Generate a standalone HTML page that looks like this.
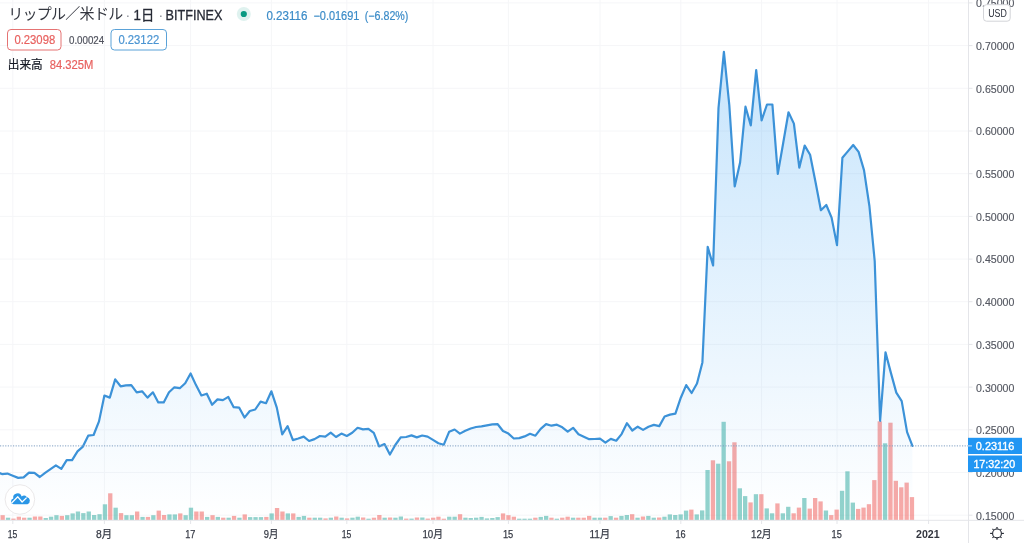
<!DOCTYPE html>
<html lang="ja"><head><meta charset="utf-8"><title>XRPUSD</title>
<style>
html,body{margin:0;padding:0;background:#fff;}
body{width:1024px;height:543px;overflow:hidden;position:relative;font-family:"Liberation Sans","Noto Sans CJK JP",sans-serif;}
svg{position:absolute;left:0;top:0;display:block}
text{font-family:"Liberation Sans","Noto Sans CJK JP",sans-serif;}
.ax{font-size:11px;fill:#555862;stroke:#555862;stroke-width:.15px}
.tm{font-size:11px;fill:#363a45;stroke:#363a45;stroke-width:.25px}
</style></head><body>
<svg width="1024" height="543" viewBox="0 0 1024 543">
<defs>
<linearGradient id="ag" gradientUnits="userSpaceOnUse" x1="0" y1="0" x2="0" y2="520">
<stop offset="0" stop-color="#2196f3" stop-opacity="0.28"/>
<stop offset="1" stop-color="#2196f3" stop-opacity="0.0"/>
</linearGradient>
<clipPath id="pane"><rect x="0" y="0" width="968.5" height="520"/></clipPath>
</defs>
<rect width="1024" height="543" fill="#fff"/>

<g stroke="#f5f6f8" stroke-width="1" fill="none">
<line x1="0" y1="2.9" x2="968.5" y2="2.9"/>
<line x1="0" y1="45.6" x2="968.5" y2="45.6"/>
<line x1="0" y1="88.3" x2="968.5" y2="88.3"/>
<line x1="0" y1="131.0" x2="968.5" y2="131.0"/>
<line x1="0" y1="173.7" x2="968.5" y2="173.7"/>
<line x1="0" y1="216.4" x2="968.5" y2="216.4"/>
<line x1="0" y1="259.1" x2="968.5" y2="259.1"/>
<line x1="0" y1="301.7" x2="968.5" y2="301.7"/>
<line x1="0" y1="344.4" x2="968.5" y2="344.4"/>
<line x1="0" y1="387.1" x2="968.5" y2="387.1"/>
<line x1="0" y1="429.8" x2="968.5" y2="429.8"/>
<line x1="0" y1="472.5" x2="968.5" y2="472.5"/>
<line x1="0" y1="515.2" x2="968.5" y2="515.2"/>
<line x1="12.8" y1="0" x2="12.8" y2="520"/>
<line x1="104.4" y1="0" x2="104.4" y2="520"/>
<line x1="190.6" y1="0" x2="190.6" y2="520"/>
<line x1="271.4" y1="0" x2="271.4" y2="520"/>
<line x1="346.8" y1="0" x2="346.8" y2="520"/>
<line x1="433.0" y1="0" x2="433.0" y2="520"/>
<line x1="508.4" y1="0" x2="508.4" y2="520"/>
<line x1="600.0" y1="0" x2="600.0" y2="520"/>
<line x1="680.8" y1="0" x2="680.8" y2="520"/>
<line x1="761.6" y1="0" x2="761.6" y2="520"/>
<line x1="837.0" y1="0" x2="837.0" y2="520"/>
<line x1="928.6" y1="0" x2="928.6" y2="520"/>
</g>
<g clip-path="url(#pane)">
<rect x="0.5" y="515.2" width="4.3" height="4.8" fill="#ef5350" fill-opacity="0.5"/>
<rect x="5.9" y="517.7" width="4.3" height="2.3" fill="#26a69a" fill-opacity="0.5"/>
<rect x="11.3" y="518.6" width="4.3" height="1.4" fill="#ef5350" fill-opacity="0.5"/>
<rect x="16.7" y="516.7" width="4.3" height="3.3" fill="#ef5350" fill-opacity="0.5"/>
<rect x="22.0" y="517.7" width="4.3" height="2.3" fill="#ef5350" fill-opacity="0.5"/>
<rect x="27.4" y="517.7" width="4.3" height="2.3" fill="#26a69a" fill-opacity="0.5"/>
<rect x="32.8" y="516.5" width="4.3" height="3.5" fill="#ef5350" fill-opacity="0.5"/>
<rect x="38.2" y="516.5" width="4.3" height="3.5" fill="#ef5350" fill-opacity="0.5"/>
<rect x="43.6" y="518.0" width="4.3" height="2.0" fill="#26a69a" fill-opacity="0.5"/>
<rect x="48.9" y="516.7" width="4.3" height="3.3" fill="#26a69a" fill-opacity="0.5"/>
<rect x="54.3" y="515.2" width="4.3" height="4.8" fill="#26a69a" fill-opacity="0.5"/>
<rect x="59.7" y="515.9" width="4.3" height="4.1" fill="#ef5350" fill-opacity="0.5"/>
<rect x="65.1" y="515.2" width="4.3" height="4.8" fill="#26a69a" fill-opacity="0.5"/>
<rect x="70.5" y="513.4" width="4.3" height="6.6" fill="#26a69a" fill-opacity="0.5"/>
<rect x="75.8" y="511.5" width="4.3" height="8.5" fill="#26a69a" fill-opacity="0.5"/>
<rect x="81.2" y="513.1" width="4.3" height="6.9" fill="#26a69a" fill-opacity="0.5"/>
<rect x="86.6" y="511.5" width="4.3" height="8.5" fill="#26a69a" fill-opacity="0.5"/>
<rect x="92.0" y="515.0" width="4.3" height="5.0" fill="#26a69a" fill-opacity="0.5"/>
<rect x="97.4" y="514.2" width="4.3" height="5.8" fill="#26a69a" fill-opacity="0.5"/>
<rect x="102.8" y="504.3" width="4.3" height="15.7" fill="#26a69a" fill-opacity="0.5"/>
<rect x="108.1" y="493.3" width="4.3" height="26.7" fill="#ef5350" fill-opacity="0.5"/>
<rect x="113.5" y="507.7" width="4.3" height="12.3" fill="#26a69a" fill-opacity="0.5"/>
<rect x="118.9" y="513.1" width="4.3" height="6.9" fill="#ef5350" fill-opacity="0.5"/>
<rect x="124.3" y="515.2" width="4.3" height="4.8" fill="#26a69a" fill-opacity="0.5"/>
<rect x="129.7" y="515.2" width="4.3" height="4.8" fill="#26a69a" fill-opacity="0.5"/>
<rect x="135.0" y="511.5" width="4.3" height="8.5" fill="#ef5350" fill-opacity="0.5"/>
<rect x="140.4" y="516.9" width="4.3" height="3.1" fill="#26a69a" fill-opacity="0.5"/>
<rect x="145.8" y="516.9" width="4.3" height="3.1" fill="#ef5350" fill-opacity="0.5"/>
<rect x="151.2" y="515.2" width="4.3" height="4.8" fill="#26a69a" fill-opacity="0.5"/>
<rect x="156.6" y="510.6" width="4.3" height="9.4" fill="#ef5350" fill-opacity="0.5"/>
<rect x="161.9" y="515.0" width="4.3" height="5.0" fill="#ef5350" fill-opacity="0.5"/>
<rect x="167.3" y="514.4" width="4.3" height="5.6" fill="#26a69a" fill-opacity="0.5"/>
<rect x="172.7" y="514.4" width="4.3" height="5.6" fill="#26a69a" fill-opacity="0.5"/>
<rect x="178.1" y="513.4" width="4.3" height="6.6" fill="#ef5350" fill-opacity="0.5"/>
<rect x="183.5" y="515.2" width="4.3" height="4.8" fill="#26a69a" fill-opacity="0.5"/>
<rect x="188.8" y="507.7" width="4.3" height="12.3" fill="#26a69a" fill-opacity="0.5"/>
<rect x="194.2" y="511.5" width="4.3" height="8.5" fill="#ef5350" fill-opacity="0.5"/>
<rect x="199.6" y="511.5" width="4.3" height="8.5" fill="#ef5350" fill-opacity="0.5"/>
<rect x="205.0" y="516.9" width="4.3" height="3.1" fill="#26a69a" fill-opacity="0.5"/>
<rect x="210.4" y="515.2" width="4.3" height="4.8" fill="#ef5350" fill-opacity="0.5"/>
<rect x="215.7" y="516.9" width="4.3" height="3.1" fill="#26a69a" fill-opacity="0.5"/>
<rect x="221.1" y="517.7" width="4.3" height="2.3" fill="#ef5350" fill-opacity="0.5"/>
<rect x="226.5" y="517.7" width="4.3" height="2.3" fill="#26a69a" fill-opacity="0.5"/>
<rect x="231.9" y="515.9" width="4.3" height="4.1" fill="#ef5350" fill-opacity="0.5"/>
<rect x="237.3" y="517.7" width="4.3" height="2.3" fill="#26a69a" fill-opacity="0.5"/>
<rect x="242.6" y="514.4" width="4.3" height="5.6" fill="#ef5350" fill-opacity="0.5"/>
<rect x="248.0" y="517.1" width="4.3" height="2.9" fill="#26a69a" fill-opacity="0.5"/>
<rect x="253.4" y="517.1" width="4.3" height="2.9" fill="#26a69a" fill-opacity="0.5"/>
<rect x="258.8" y="517.1" width="4.3" height="2.9" fill="#26a69a" fill-opacity="0.5"/>
<rect x="264.2" y="516.9" width="4.3" height="3.1" fill="#ef5350" fill-opacity="0.5"/>
<rect x="269.5" y="513.4" width="4.3" height="6.6" fill="#26a69a" fill-opacity="0.5"/>
<rect x="274.9" y="508.0" width="4.3" height="12.0" fill="#ef5350" fill-opacity="0.5"/>
<rect x="280.3" y="511.5" width="4.3" height="8.5" fill="#ef5350" fill-opacity="0.5"/>
<rect x="285.7" y="513.4" width="4.3" height="6.6" fill="#26a69a" fill-opacity="0.5"/>
<rect x="291.1" y="513.4" width="4.3" height="6.6" fill="#ef5350" fill-opacity="0.5"/>
<rect x="296.5" y="516.9" width="4.3" height="3.1" fill="#26a69a" fill-opacity="0.5"/>
<rect x="301.8" y="515.9" width="4.3" height="4.1" fill="#26a69a" fill-opacity="0.5"/>
<rect x="307.2" y="517.7" width="4.3" height="2.3" fill="#ef5350" fill-opacity="0.5"/>
<rect x="312.6" y="517.7" width="4.3" height="2.3" fill="#26a69a" fill-opacity="0.5"/>
<rect x="318.0" y="517.7" width="4.3" height="2.3" fill="#26a69a" fill-opacity="0.5"/>
<rect x="323.4" y="518.4" width="4.3" height="1.6" fill="#ef5350" fill-opacity="0.5"/>
<rect x="328.7" y="517.7" width="4.3" height="2.3" fill="#26a69a" fill-opacity="0.5"/>
<rect x="334.1" y="516.5" width="4.3" height="3.5" fill="#ef5350" fill-opacity="0.5"/>
<rect x="339.5" y="517.7" width="4.3" height="2.3" fill="#26a69a" fill-opacity="0.5"/>
<rect x="344.9" y="518.4" width="4.3" height="1.6" fill="#ef5350" fill-opacity="0.5"/>
<rect x="350.3" y="517.7" width="4.3" height="2.3" fill="#26a69a" fill-opacity="0.5"/>
<rect x="355.6" y="516.7" width="4.3" height="3.3" fill="#26a69a" fill-opacity="0.5"/>
<rect x="361.0" y="517.5" width="4.3" height="2.5" fill="#ef5350" fill-opacity="0.5"/>
<rect x="366.4" y="518.7" width="4.3" height="1.3" fill="#26a69a" fill-opacity="0.5"/>
<rect x="371.8" y="517.7" width="4.3" height="2.3" fill="#ef5350" fill-opacity="0.5"/>
<rect x="377.2" y="515.0" width="4.3" height="5.0" fill="#ef5350" fill-opacity="0.5"/>
<rect x="382.5" y="517.7" width="4.3" height="2.3" fill="#26a69a" fill-opacity="0.5"/>
<rect x="387.9" y="517.5" width="4.3" height="2.5" fill="#ef5350" fill-opacity="0.5"/>
<rect x="393.3" y="517.7" width="4.3" height="2.3" fill="#26a69a" fill-opacity="0.5"/>
<rect x="398.7" y="516.5" width="4.3" height="3.5" fill="#26a69a" fill-opacity="0.5"/>
<rect x="404.1" y="518.6" width="4.3" height="1.4" fill="#ef5350" fill-opacity="0.5"/>
<rect x="409.4" y="518.6" width="4.3" height="1.4" fill="#26a69a" fill-opacity="0.5"/>
<rect x="414.8" y="517.5" width="4.3" height="2.5" fill="#ef5350" fill-opacity="0.5"/>
<rect x="420.2" y="517.5" width="4.3" height="2.5" fill="#26a69a" fill-opacity="0.5"/>
<rect x="425.6" y="518.6" width="4.3" height="1.4" fill="#ef5350" fill-opacity="0.5"/>
<rect x="431.0" y="517.7" width="4.3" height="2.3" fill="#ef5350" fill-opacity="0.5"/>
<rect x="436.3" y="516.7" width="4.3" height="3.3" fill="#ef5350" fill-opacity="0.5"/>
<rect x="441.7" y="518.7" width="4.3" height="1.3" fill="#ef5350" fill-opacity="0.5"/>
<rect x="447.1" y="516.7" width="4.3" height="3.3" fill="#26a69a" fill-opacity="0.5"/>
<rect x="452.5" y="516.7" width="4.3" height="3.3" fill="#26a69a" fill-opacity="0.5"/>
<rect x="457.9" y="514.2" width="4.3" height="5.8" fill="#ef5350" fill-opacity="0.5"/>
<rect x="463.3" y="517.7" width="4.3" height="2.3" fill="#26a69a" fill-opacity="0.5"/>
<rect x="468.6" y="518.0" width="4.3" height="2.0" fill="#26a69a" fill-opacity="0.5"/>
<rect x="474.0" y="517.7" width="4.3" height="2.3" fill="#26a69a" fill-opacity="0.5"/>
<rect x="479.4" y="516.9" width="4.3" height="3.1" fill="#26a69a" fill-opacity="0.5"/>
<rect x="484.8" y="518.4" width="4.3" height="1.6" fill="#26a69a" fill-opacity="0.5"/>
<rect x="490.2" y="518.0" width="4.3" height="2.0" fill="#26a69a" fill-opacity="0.5"/>
<rect x="495.5" y="517.1" width="4.3" height="2.9" fill="#26a69a" fill-opacity="0.5"/>
<rect x="500.9" y="513.4" width="4.3" height="6.6" fill="#ef5350" fill-opacity="0.5"/>
<rect x="506.3" y="515.2" width="4.3" height="4.8" fill="#ef5350" fill-opacity="0.5"/>
<rect x="511.7" y="516.7" width="4.3" height="3.3" fill="#ef5350" fill-opacity="0.5"/>
<rect x="517.1" y="518.7" width="4.3" height="1.3" fill="#26a69a" fill-opacity="0.5"/>
<rect x="522.4" y="518.7" width="4.3" height="1.3" fill="#26a69a" fill-opacity="0.5"/>
<rect x="527.8" y="518.7" width="4.3" height="1.3" fill="#26a69a" fill-opacity="0.5"/>
<rect x="533.2" y="517.7" width="4.3" height="2.3" fill="#ef5350" fill-opacity="0.5"/>
<rect x="538.6" y="516.9" width="4.3" height="3.1" fill="#26a69a" fill-opacity="0.5"/>
<rect x="544.0" y="515.9" width="4.3" height="4.1" fill="#26a69a" fill-opacity="0.5"/>
<rect x="549.3" y="517.7" width="4.3" height="2.3" fill="#ef5350" fill-opacity="0.5"/>
<rect x="554.7" y="518.7" width="4.3" height="1.3" fill="#26a69a" fill-opacity="0.5"/>
<rect x="560.1" y="517.7" width="4.3" height="2.3" fill="#ef5350" fill-opacity="0.5"/>
<rect x="565.5" y="516.7" width="4.3" height="3.3" fill="#ef5350" fill-opacity="0.5"/>
<rect x="570.9" y="517.7" width="4.3" height="2.3" fill="#26a69a" fill-opacity="0.5"/>
<rect x="576.2" y="517.7" width="4.3" height="2.3" fill="#ef5350" fill-opacity="0.5"/>
<rect x="581.6" y="517.7" width="4.3" height="2.3" fill="#ef5350" fill-opacity="0.5"/>
<rect x="587.0" y="515.9" width="4.3" height="4.1" fill="#ef5350" fill-opacity="0.5"/>
<rect x="592.4" y="517.7" width="4.3" height="2.3" fill="#26a69a" fill-opacity="0.5"/>
<rect x="597.8" y="517.7" width="4.3" height="2.3" fill="#26a69a" fill-opacity="0.5"/>
<rect x="603.1" y="517.7" width="4.3" height="2.3" fill="#ef5350" fill-opacity="0.5"/>
<rect x="608.5" y="516.1" width="4.3" height="3.9" fill="#26a69a" fill-opacity="0.5"/>
<rect x="613.9" y="517.7" width="4.3" height="2.3" fill="#ef5350" fill-opacity="0.5"/>
<rect x="619.3" y="515.9" width="4.3" height="4.1" fill="#26a69a" fill-opacity="0.5"/>
<rect x="624.7" y="515.0" width="4.3" height="5.0" fill="#26a69a" fill-opacity="0.5"/>
<rect x="630.0" y="514.2" width="4.3" height="5.8" fill="#ef5350" fill-opacity="0.5"/>
<rect x="635.4" y="517.7" width="4.3" height="2.3" fill="#26a69a" fill-opacity="0.5"/>
<rect x="640.8" y="516.5" width="4.3" height="3.5" fill="#ef5350" fill-opacity="0.5"/>
<rect x="646.2" y="515.9" width="4.3" height="4.1" fill="#26a69a" fill-opacity="0.5"/>
<rect x="651.6" y="517.7" width="4.3" height="2.3" fill="#26a69a" fill-opacity="0.5"/>
<rect x="657.0" y="517.5" width="4.3" height="2.5" fill="#ef5350" fill-opacity="0.5"/>
<rect x="662.3" y="516.7" width="4.3" height="3.3" fill="#26a69a" fill-opacity="0.5"/>
<rect x="667.7" y="514.4" width="4.3" height="5.6" fill="#26a69a" fill-opacity="0.5"/>
<rect x="673.1" y="515.0" width="4.3" height="5.0" fill="#26a69a" fill-opacity="0.5"/>
<rect x="678.5" y="514.4" width="4.3" height="5.6" fill="#26a69a" fill-opacity="0.5"/>
<rect x="683.9" y="510.6" width="4.3" height="9.4" fill="#26a69a" fill-opacity="0.5"/>
<rect x="689.2" y="509.6" width="4.3" height="10.4" fill="#ef5350" fill-opacity="0.5"/>
<rect x="694.6" y="514.4" width="4.3" height="5.6" fill="#26a69a" fill-opacity="0.5"/>
<rect x="700.0" y="510.4" width="4.3" height="9.6" fill="#26a69a" fill-opacity="0.5"/>
<rect x="705.4" y="470.0" width="4.3" height="50.0" fill="#26a69a" fill-opacity="0.5"/>
<rect x="710.8" y="460.3" width="4.3" height="59.7" fill="#ef5350" fill-opacity="0.5"/>
<rect x="716.1" y="463.7" width="4.3" height="56.3" fill="#26a69a" fill-opacity="0.5"/>
<rect x="721.5" y="421.8" width="4.3" height="98.2" fill="#26a69a" fill-opacity="0.5"/>
<rect x="726.9" y="461.3" width="4.3" height="58.7" fill="#ef5350" fill-opacity="0.5"/>
<rect x="732.3" y="442.3" width="4.3" height="77.7" fill="#ef5350" fill-opacity="0.5"/>
<rect x="737.7" y="488.3" width="4.3" height="31.7" fill="#26a69a" fill-opacity="0.5"/>
<rect x="743.0" y="496.1" width="4.3" height="23.9" fill="#26a69a" fill-opacity="0.5"/>
<rect x="748.4" y="502.4" width="4.3" height="17.6" fill="#ef5350" fill-opacity="0.5"/>
<rect x="753.8" y="494.2" width="4.3" height="25.8" fill="#26a69a" fill-opacity="0.5"/>
<rect x="759.2" y="494.2" width="4.3" height="25.8" fill="#ef5350" fill-opacity="0.5"/>
<rect x="764.6" y="508.4" width="4.3" height="11.6" fill="#26a69a" fill-opacity="0.5"/>
<rect x="769.9" y="513.3" width="4.3" height="6.7" fill="#26a69a" fill-opacity="0.5"/>
<rect x="775.3" y="503.4" width="4.3" height="16.6" fill="#ef5350" fill-opacity="0.5"/>
<rect x="780.7" y="513.3" width="4.3" height="6.7" fill="#26a69a" fill-opacity="0.5"/>
<rect x="786.1" y="506.8" width="4.3" height="13.2" fill="#26a69a" fill-opacity="0.5"/>
<rect x="791.5" y="513.3" width="4.3" height="6.7" fill="#ef5350" fill-opacity="0.5"/>
<rect x="796.8" y="507.6" width="4.3" height="12.4" fill="#ef5350" fill-opacity="0.5"/>
<rect x="802.2" y="498.0" width="4.3" height="22.0" fill="#26a69a" fill-opacity="0.5"/>
<rect x="807.6" y="508.6" width="4.3" height="11.4" fill="#ef5350" fill-opacity="0.5"/>
<rect x="813.0" y="498.0" width="4.3" height="22.0" fill="#ef5350" fill-opacity="0.5"/>
<rect x="818.4" y="501.4" width="4.3" height="18.6" fill="#ef5350" fill-opacity="0.5"/>
<rect x="823.8" y="510.5" width="4.3" height="9.5" fill="#26a69a" fill-opacity="0.5"/>
<rect x="829.1" y="515.1" width="4.3" height="4.9" fill="#ef5350" fill-opacity="0.5"/>
<rect x="834.5" y="509.6" width="4.3" height="10.4" fill="#ef5350" fill-opacity="0.5"/>
<rect x="839.9" y="490.8" width="4.3" height="29.2" fill="#26a69a" fill-opacity="0.5"/>
<rect x="845.3" y="471.3" width="4.3" height="48.7" fill="#26a69a" fill-opacity="0.5"/>
<rect x="850.7" y="502.6" width="4.3" height="17.4" fill="#26a69a" fill-opacity="0.5"/>
<rect x="856.0" y="508.9" width="4.3" height="11.1" fill="#ef5350" fill-opacity="0.5"/>
<rect x="861.4" y="507.6" width="4.3" height="12.4" fill="#ef5350" fill-opacity="0.5"/>
<rect x="866.8" y="504.2" width="4.3" height="15.8" fill="#ef5350" fill-opacity="0.5"/>
<rect x="872.2" y="480.1" width="4.3" height="39.9" fill="#ef5350" fill-opacity="0.5"/>
<rect x="877.6" y="421.3" width="4.3" height="98.7" fill="#ef5350" fill-opacity="0.5"/>
<rect x="882.9" y="443.3" width="4.3" height="76.7" fill="#26a69a" fill-opacity="0.5"/>
<rect x="888.3" y="422.7" width="4.3" height="97.3" fill="#ef5350" fill-opacity="0.5"/>
<rect x="893.7" y="480.8" width="4.3" height="39.2" fill="#ef5350" fill-opacity="0.5"/>
<rect x="899.1" y="487.3" width="4.3" height="32.7" fill="#ef5350" fill-opacity="0.5"/>
<rect x="904.5" y="482.6" width="4.3" height="37.4" fill="#ef5350" fill-opacity="0.5"/>
<rect x="909.8" y="497.1" width="4.3" height="22.9" fill="#ef5350" fill-opacity="0.5"/>
<path d="M-3.3 472.0 L2.0 474.1 L7.4 473.6 L12.8 475.8 L18.2 477.9 L23.6 477.4 L29.0 472.6 L34.4 472.9 L39.8 477.0 L45.1 472.9 L50.5 469.1 L55.9 465.4 L61.3 468.9 L66.7 460.1 L72.1 460.1 L77.5 451.3 L82.9 446.6 L88.2 435.7 L93.6 435.0 L99.0 421.4 L104.4 395.5 L109.8 397.6 L115.2 379.4 L120.6 386.3 L125.9 385.4 L131.3 385.1 L136.7 392.3 L142.1 391.3 L147.5 397.6 L152.9 392.3 L158.3 402.4 L163.7 402.4 L169.0 392.3 L174.4 387.3 L179.8 388.2 L185.2 383.2 L190.6 373.5 L196.0 385.1 L201.4 395.5 L206.8 393.7 L212.1 404.8 L217.5 399.4 L222.9 400.1 L228.3 396.9 L233.7 407.2 L239.1 407.6 L244.5 417.6 L249.8 411.0 L255.2 409.5 L260.6 401.6 L266.0 403.2 L271.4 391.3 L276.8 407.6 L282.2 434.3 L287.6 426.2 L292.9 440.1 L298.3 438.5 L303.7 436.6 L309.1 441.0 L314.5 439.1 L319.9 436.0 L325.3 436.6 L330.7 432.6 L336.0 437.0 L341.4 433.6 L346.8 436.0 L352.2 432.8 L357.6 427.8 L363.0 429.4 L368.4 428.8 L373.8 432.8 L379.1 446.4 L384.5 444.1 L389.9 454.5 L395.3 445.0 L400.7 437.3 L406.1 437.0 L411.5 435.4 L416.8 437.4 L422.2 435.5 L427.6 436.6 L433.0 439.9 L438.4 443.2 L443.8 444.7 L449.2 431.7 L454.6 429.5 L459.9 433.6 L465.3 430.7 L470.7 428.5 L476.1 427.0 L481.5 426.3 L486.9 425.3 L492.3 424.4 L497.7 424.2 L503.0 431.0 L508.4 433.6 L513.8 438.5 L519.2 438.1 L524.6 436.4 L530.0 433.8 L535.4 435.7 L540.7 428.8 L546.1 424.1 L551.5 425.7 L556.9 424.7 L562.3 427.3 L567.7 431.6 L573.1 427.8 L578.5 434.2 L583.8 436.7 L589.2 439.2 L594.6 439.0 L600.0 438.7 L605.4 442.6 L610.8 438.9 L616.2 440.7 L621.6 434.1 L626.9 423.2 L632.3 430.5 L637.7 426.7 L643.1 429.9 L648.5 426.8 L653.9 424.9 L659.3 426.1 L664.6 416.5 L670.0 414.6 L675.4 413.6 L680.8 397.7 L686.2 385.1 L691.6 393.0 L697.0 383.5 L702.4 362.4 L707.7 246.9 L713.1 265.5 L718.5 108.0 L723.9 51.9 L729.3 105.0 L734.7 186.5 L740.1 162.5 L745.5 106.7 L750.8 125.4 L756.2 70.1 L761.6 120.4 L767.0 104.5 L772.4 104.5 L777.8 173.9 L783.2 143.0 L788.5 112.3 L793.9 123.6 L799.3 167.7 L804.7 145.6 L810.1 154.8 L815.5 182.0 L820.9 210.2 L826.3 205.0 L831.6 217.6 L837.0 245.1 L842.4 157.8 L847.8 151.4 L853.2 145.0 L858.6 151.9 L864.0 170.1 L869.4 206.0 L874.7 261.0 L880.1 420.8 L885.5 352.4 L890.9 372.9 L896.3 392.6 L901.7 401.1 L907.1 432.1 L912.4 445.9 L912.4 520 L-3.3 520 Z" fill="url(#ag)" stroke="none"/>
<path d="M-3.3 472.0 L2.0 474.1 L7.4 473.6 L12.8 475.8 L18.2 477.9 L23.6 477.4 L29.0 472.6 L34.4 472.9 L39.8 477.0 L45.1 472.9 L50.5 469.1 L55.9 465.4 L61.3 468.9 L66.7 460.1 L72.1 460.1 L77.5 451.3 L82.9 446.6 L88.2 435.7 L93.6 435.0 L99.0 421.4 L104.4 395.5 L109.8 397.6 L115.2 379.4 L120.6 386.3 L125.9 385.4 L131.3 385.1 L136.7 392.3 L142.1 391.3 L147.5 397.6 L152.9 392.3 L158.3 402.4 L163.7 402.4 L169.0 392.3 L174.4 387.3 L179.8 388.2 L185.2 383.2 L190.6 373.5 L196.0 385.1 L201.4 395.5 L206.8 393.7 L212.1 404.8 L217.5 399.4 L222.9 400.1 L228.3 396.9 L233.7 407.2 L239.1 407.6 L244.5 417.6 L249.8 411.0 L255.2 409.5 L260.6 401.6 L266.0 403.2 L271.4 391.3 L276.8 407.6 L282.2 434.3 L287.6 426.2 L292.9 440.1 L298.3 438.5 L303.7 436.6 L309.1 441.0 L314.5 439.1 L319.9 436.0 L325.3 436.6 L330.7 432.6 L336.0 437.0 L341.4 433.6 L346.8 436.0 L352.2 432.8 L357.6 427.8 L363.0 429.4 L368.4 428.8 L373.8 432.8 L379.1 446.4 L384.5 444.1 L389.9 454.5 L395.3 445.0 L400.7 437.3 L406.1 437.0 L411.5 435.4 L416.8 437.4 L422.2 435.5 L427.6 436.6 L433.0 439.9 L438.4 443.2 L443.8 444.7 L449.2 431.7 L454.6 429.5 L459.9 433.6 L465.3 430.7 L470.7 428.5 L476.1 427.0 L481.5 426.3 L486.9 425.3 L492.3 424.4 L497.7 424.2 L503.0 431.0 L508.4 433.6 L513.8 438.5 L519.2 438.1 L524.6 436.4 L530.0 433.8 L535.4 435.7 L540.7 428.8 L546.1 424.1 L551.5 425.7 L556.9 424.7 L562.3 427.3 L567.7 431.6 L573.1 427.8 L578.5 434.2 L583.8 436.7 L589.2 439.2 L594.6 439.0 L600.0 438.7 L605.4 442.6 L610.8 438.9 L616.2 440.7 L621.6 434.1 L626.9 423.2 L632.3 430.5 L637.7 426.7 L643.1 429.9 L648.5 426.8 L653.9 424.9 L659.3 426.1 L664.6 416.5 L670.0 414.6 L675.4 413.6 L680.8 397.7 L686.2 385.1 L691.6 393.0 L697.0 383.5 L702.4 362.4 L707.7 246.9 L713.1 265.5 L718.5 108.0 L723.9 51.9 L729.3 105.0 L734.7 186.5 L740.1 162.5 L745.5 106.7 L750.8 125.4 L756.2 70.1 L761.6 120.4 L767.0 104.5 L772.4 104.5 L777.8 173.9 L783.2 143.0 L788.5 112.3 L793.9 123.6 L799.3 167.7 L804.7 145.6 L810.1 154.8 L815.5 182.0 L820.9 210.2 L826.3 205.0 L831.6 217.6 L837.0 245.1 L842.4 157.8 L847.8 151.4 L853.2 145.0 L858.6 151.9 L864.0 170.1 L869.4 206.0 L874.7 261.0 L880.1 420.8 L885.5 352.4 L890.9 372.9 L896.3 392.6 L901.7 401.1 L907.1 432.1 L912.4 445.9" fill="none" stroke="#3c92d8" stroke-width="2.2" stroke-linejoin="round" stroke-linecap="round"/>
</g>
<line x1="0" y1="445.9" x2="968" y2="445.9" stroke="#7f9fc2" stroke-width="1" stroke-dasharray="1.2 1.4"/>
<g stroke="#e4e5e9" stroke-width="1">
<line x1="968.5" y1="0" x2="968.5" y2="543"/>
<line x1="0" y1="520.3" x2="1024" y2="520.3"/>
<line x1="968.5" y1="2.9" x2="972.5" y2="2.9"/>
<line x1="968.5" y1="45.6" x2="972.5" y2="45.6"/>
<line x1="968.5" y1="88.3" x2="972.5" y2="88.3"/>
<line x1="968.5" y1="131.0" x2="972.5" y2="131.0"/>
<line x1="968.5" y1="173.7" x2="972.5" y2="173.7"/>
<line x1="968.5" y1="216.4" x2="972.5" y2="216.4"/>
<line x1="968.5" y1="259.1" x2="972.5" y2="259.1"/>
<line x1="968.5" y1="301.7" x2="972.5" y2="301.7"/>
<line x1="968.5" y1="344.4" x2="972.5" y2="344.4"/>
<line x1="968.5" y1="387.1" x2="972.5" y2="387.1"/>
<line x1="968.5" y1="429.8" x2="972.5" y2="429.8"/>
<line x1="968.5" y1="472.5" x2="972.5" y2="472.5"/>
<line x1="968.5" y1="515.2" x2="972.5" y2="515.2"/>
<line x1="12.8" y1="520" x2="12.8" y2="524"/>
<line x1="104.4" y1="520" x2="104.4" y2="524"/>
<line x1="190.6" y1="520" x2="190.6" y2="524"/>
<line x1="271.4" y1="520" x2="271.4" y2="524"/>
<line x1="346.8" y1="520" x2="346.8" y2="524"/>
<line x1="433.0" y1="520" x2="433.0" y2="524"/>
<line x1="508.4" y1="520" x2="508.4" y2="524"/>
<line x1="600.0" y1="520" x2="600.0" y2="524"/>
<line x1="680.8" y1="520" x2="680.8" y2="524"/>
<line x1="761.6" y1="520" x2="761.6" y2="524"/>
<line x1="837.0" y1="520" x2="837.0" y2="524"/>
<line x1="928.6" y1="520" x2="928.6" y2="524"/>
</g>
<text class="ax" x="976.1" y="7.3" textLength="38.3" lengthAdjust="spacingAndGlyphs">0.75000</text>
<text class="ax" x="976.1" y="50.0" textLength="38.3" lengthAdjust="spacingAndGlyphs">0.70000</text>
<text class="ax" x="976.1" y="92.7" textLength="38.3" lengthAdjust="spacingAndGlyphs">0.65000</text>
<text class="ax" x="976.1" y="135.4" textLength="38.3" lengthAdjust="spacingAndGlyphs">0.60000</text>
<text class="ax" x="976.1" y="178.1" textLength="38.3" lengthAdjust="spacingAndGlyphs">0.55000</text>
<text class="ax" x="976.1" y="220.8" textLength="38.3" lengthAdjust="spacingAndGlyphs">0.50000</text>
<text class="ax" x="976.1" y="263.4" textLength="38.3" lengthAdjust="spacingAndGlyphs">0.45000</text>
<text class="ax" x="976.1" y="306.1" textLength="38.3" lengthAdjust="spacingAndGlyphs">0.40000</text>
<text class="ax" x="976.1" y="348.8" textLength="38.3" lengthAdjust="spacingAndGlyphs">0.35000</text>
<text class="ax" x="976.1" y="391.5" textLength="38.3" lengthAdjust="spacingAndGlyphs">0.30000</text>
<text class="ax" x="976.1" y="434.2" textLength="38.3" lengthAdjust="spacingAndGlyphs">0.25000</text>
<text class="ax" x="976.1" y="476.9" textLength="38.3" lengthAdjust="spacingAndGlyphs">0.20000</text>
<text class="ax" x="976.1" y="519.6" textLength="38.3" lengthAdjust="spacingAndGlyphs">0.15000</text>
<rect x="983.5" y="4.7" width="26.7" height="16.5" rx="3" ry="3" fill="#fff" stroke="#d3d4d8" stroke-width="1"/>
<text x="988.2" y="17.2" font-size="10" fill="#2a2e39" stroke="none" textLength="18.6" lengthAdjust="spacingAndGlyphs">USD</text>
<rect x="968" y="437.8" width="54" height="16.2" fill="#2196f3"/>
<rect x="968" y="455.5" width="54" height="16.5" fill="#2196f3"/>
<line x1="968" y1="445.9" x2="972" y2="445.9" stroke="#cfe6fb" stroke-width="1"/>
<text x="975.8" y="449.9" font-size="11" fill="#fff" stroke="#fff" stroke-width="0.35" textLength="38.6" lengthAdjust="spacingAndGlyphs">0.23116</text>
<text x="973.4" y="467.9" font-size="11" fill="#fff" stroke="#fff" stroke-width="0.35" textLength="41.8" lengthAdjust="spacingAndGlyphs">17:32:20</text>
<text class="tm" x="12.5" y="537.5" text-anchor="middle" textLength="9.6" lengthAdjust="spacingAndGlyphs">15</text>
<text class="tm" x="104.1" y="537.5" text-anchor="middle" textLength="16.0" lengthAdjust="spacingAndGlyphs">8月</text>
<text class="tm" x="190.3" y="537.5" text-anchor="middle" textLength="10.2" lengthAdjust="spacingAndGlyphs">17</text>
<text class="tm" x="271.1" y="537.5" text-anchor="middle" textLength="14.6" lengthAdjust="spacingAndGlyphs">9月</text>
<text class="tm" x="346.5" y="537.5" text-anchor="middle" textLength="9.6" lengthAdjust="spacingAndGlyphs">15</text>
<text class="tm" x="432.7" y="537.5" text-anchor="middle" textLength="20.6" lengthAdjust="spacingAndGlyphs">10月</text>
<text class="tm" x="508.1" y="537.5" text-anchor="middle" textLength="10.4" lengthAdjust="spacingAndGlyphs">15</text>
<text class="tm" x="599.7" y="537.5" text-anchor="middle" textLength="20.6" lengthAdjust="spacingAndGlyphs">11月</text>
<text class="tm" x="680.5" y="537.5" text-anchor="middle" textLength="10.2" lengthAdjust="spacingAndGlyphs">16</text>
<text class="tm" x="761.3" y="537.5" text-anchor="middle" textLength="20.6" lengthAdjust="spacingAndGlyphs">12月</text>
<text class="tm" x="836.7" y="537.5" text-anchor="middle" textLength="10.2" lengthAdjust="spacingAndGlyphs">15</text>
<text class="tm" x="927.8" y="537.5" text-anchor="middle" font-weight="bold" textLength="23.6" lengthAdjust="spacingAndGlyphs" style="fill:#33363f;stroke:none">2021</text>
<g stroke="#1e222d" stroke-width="1.1" fill="none" stroke-linecap="butt">
<circle cx="997.0" cy="533.4" r="4.4"/>
<line x1="1001.90" y1="533.40" x2="1003.90" y2="533.40"/>
<line x1="1000.46" y1="536.86" x2="1001.53" y2="537.93"/>
<line x1="997.00" y1="538.30" x2="997.00" y2="539.60" stroke-width="1.7"/>
<line x1="993.54" y1="536.86" x2="992.47" y2="537.93"/>
<line x1="992.10" y1="533.40" x2="990.10" y2="533.40"/>
<line x1="993.54" y1="529.94" x2="992.47" y2="528.87"/>
<line x1="997.00" y1="528.50" x2="997.00" y2="527.20" stroke-width="1.7"/>
<line x1="1000.46" y1="529.94" x2="1001.53" y2="528.87"/>
</g>
<circle cx="19.9" cy="499.5" r="14.8" fill="#fff" stroke="#ebe9ea" stroke-width="1"/>
<path d="M13.6 504.3 a2.9 2.9 0 0 1 -0.3 -5.7 a4.3 4.3 0 0 1 8.3 -2.2 a3.9 3.9 0 0 1 5.2 0.5 a3.9 3.9 0 0 1 0.7 7.4 Z" fill="#2a96e6"/>
<path d="M11.6 503 L17.8 496.8 L22.1 502 L26.6 497.6" fill="none" stroke="#fff" stroke-width="1.3" stroke-linejoin="round"/>
<g font-size="14" fill="#262a35" stroke="#262a35" stroke-width="0.3">
<text x="8.2" y="19.3" font-size="15" textLength="115" lengthAdjust="spacing" style="fill:#33363f;stroke:none">リップル／米ドル</text>
<text x="125.6" y="19.9" style="fill:#8a8d96;stroke:none">·</text>
<text x="133.6" y="19.9" textLength="20.6" lengthAdjust="spacingAndGlyphs">1日</text>
<text x="158.6" y="19.9" style="fill:#8a8d96;stroke:none">·</text>
<text x="165.6" y="19.9" textLength="56.8" lengthAdjust="spacingAndGlyphs">BITFINEX</text>
</g>
<circle cx="243.8" cy="14" r="7" fill="#089981" fill-opacity="0.13"/>
<circle cx="243.8" cy="14" r="3.1" fill="#089981"/>
<g font-size="12" fill="#3c8cc8" stroke="#3c8cc8" stroke-width="0.2">
<text x="266.4" y="19.6" textLength="41" lengthAdjust="spacingAndGlyphs">0.23116</text>
<text x="313.4" y="19.6" textLength="46" lengthAdjust="spacingAndGlyphs">−0.01691</text>
<text x="364.8" y="19.6" textLength="43.6" lengthAdjust="spacingAndGlyphs">(−6.82%)</text>
</g>
<rect x="7.5" y="29.5" width="53.5" height="20.5" rx="3.5" fill="#fff" stroke="#e57373" stroke-width="1"/>
<text x="14.4" y="43.8" font-size="12" fill="#e8615f" textLength="40.8" lengthAdjust="spacingAndGlyphs" stroke="#e8615f" stroke-width="0.2">0.23098</text>
<text x="69" y="43.6" font-size="10" fill="#50535e" textLength="35.2" lengthAdjust="spacingAndGlyphs" stroke="#50535e" stroke-width="0.2">0.00024</text>
<rect x="111" y="29.5" width="55.5" height="20.5" rx="3.5" fill="#fff" stroke="#5aa2d8" stroke-width="1"/>
<text x="118.4" y="43.8" font-size="12" fill="#4a94d2" textLength="40.8" lengthAdjust="spacingAndGlyphs" stroke="#4a94d2" stroke-width="0.2">0.23122</text>
<text x="7.8" y="68.6" font-size="12" fill="#131722" textLength="35" lengthAdjust="spacingAndGlyphs" stroke="#131722" stroke-width="0.2">出来高</text>
<text x="49.8" y="68.6" font-size="12" fill="#e8615f" textLength="43.6" lengthAdjust="spacingAndGlyphs" stroke="#e8615f" stroke-width="0.2">84.325M</text>
</svg></body></html>
